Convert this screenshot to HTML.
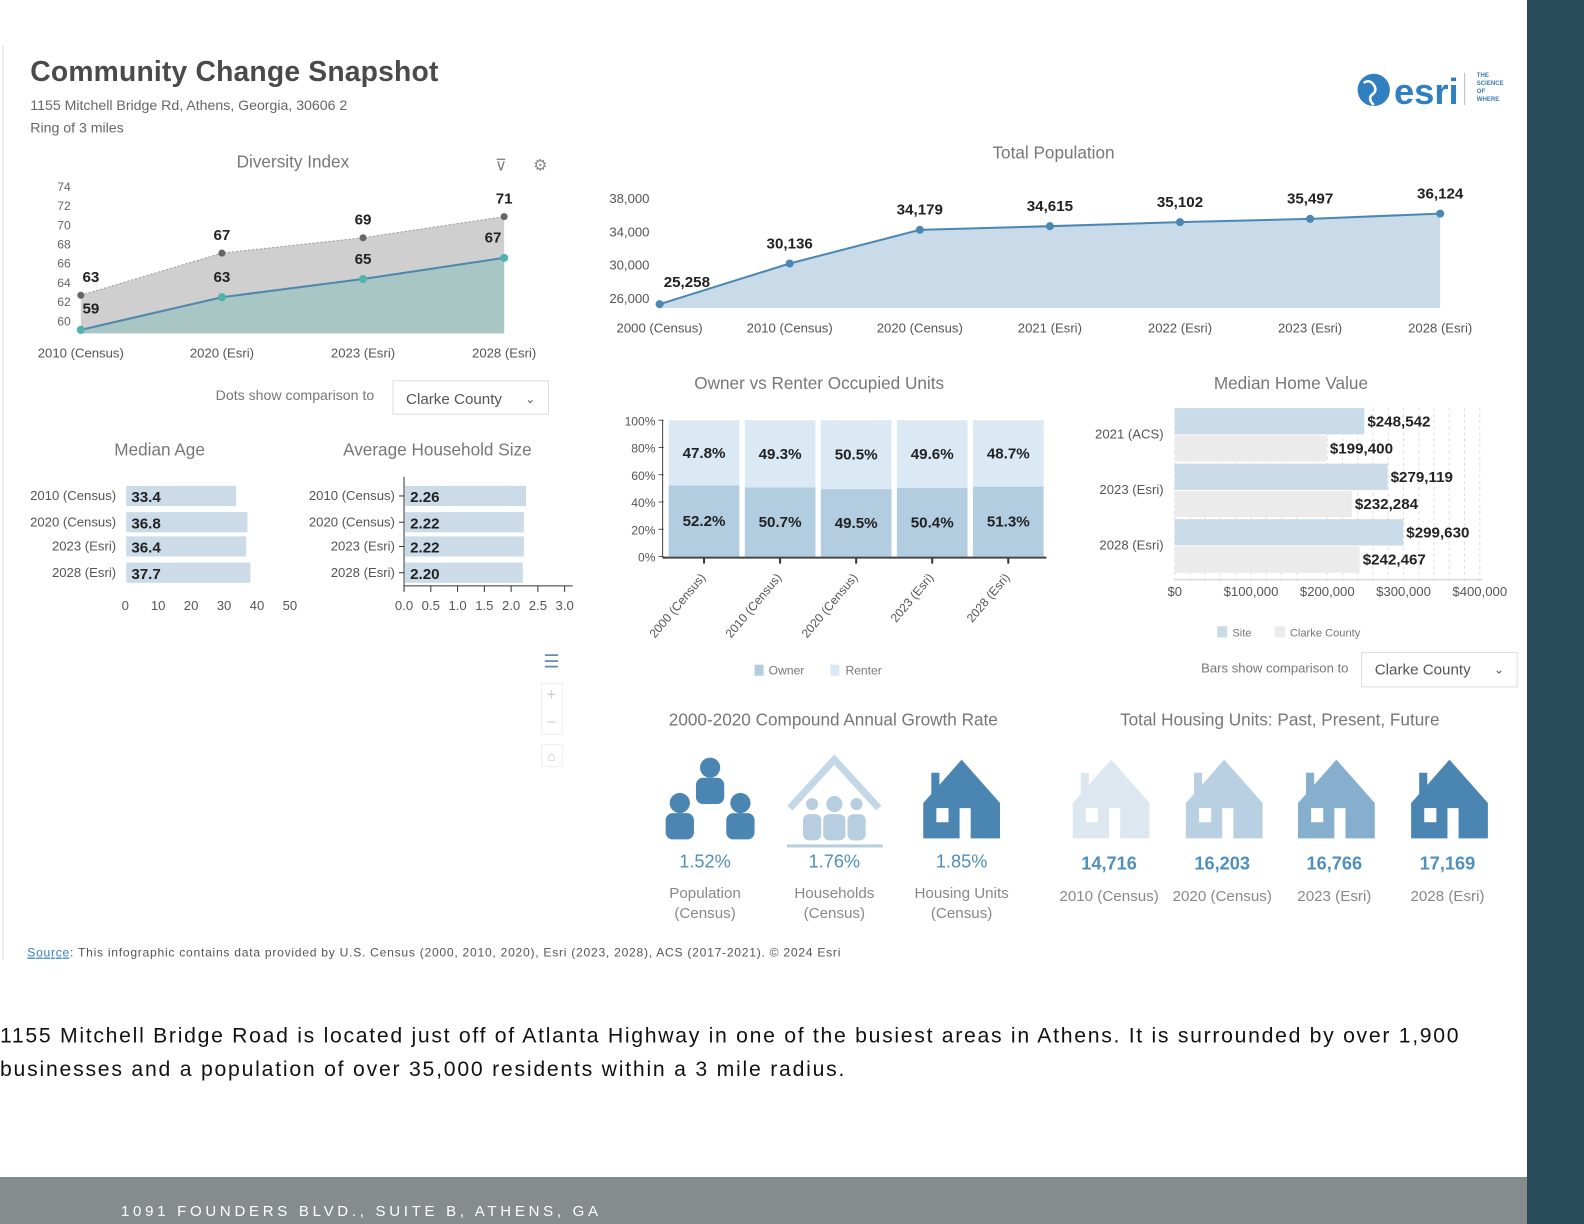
<!DOCTYPE html>
<html><head><meta charset="utf-8"><style>
html,body{margin:0;padding:0;width:1584px;height:1224px;overflow:hidden;background:#fff;font-family:"Liberation Sans",sans-serif}
svg{position:absolute;left:0;top:0}
text{font-family:"Liberation Sans",sans-serif}
</style></head><body>
<svg id="s" width="1584" height="1224" viewBox="0 0 1584 1224" xmlns="http://www.w3.org/2000/svg">
<rect x="1527" y="0" width="57" height="1224" fill="#284a5b"/>
<rect x="0" y="1177" width="1527" height="47" fill="#868b8d"/>
<text x="121" y="1216" fill="#fff" font-size="15" textLength="480" letter-spacing="3">1091 FOUNDERS BLVD., SUITE B, ATHENS, GA</text>
<g transform="scale(1.0101)">
<line x1="3" y1="45" x2="3" y2="950" stroke="#eee" stroke-width="2"/>
<text x="30" y="80" font-size="28" font-weight="bold" fill="#4a4a4a" textLength="404">Community Change Snapshot</text>
<text x="30" y="109" font-size="14" fill="#666">1155 Mitchell Bridge Rd, Athens, Georgia, 30606 2</text>
<text x="30" y="131" font-size="14" fill="#666">Ring of 3 miles</text>
<g>
<circle cx="1360" cy="89" r="16" fill="#2f7fc1"/>
<path d="M1350 82 q6 -4 10 2 q4 6 -2 10 q-4 4 2 10" stroke="#fff" stroke-width="2.5" fill="none"/>
<text x="1380" y="103" font-size="36" font-weight="bold" fill="#2f7fc1">esri</text>
<line x1="1450" y1="72" x2="1450" y2="104" stroke="#bbb"/>
<text x="1462" y="76" font-size="6" font-weight="bold" fill="#3a7ab0">THE</text>
<text x="1462" y="84" font-size="6" font-weight="bold" fill="#3a7ab0">SCIENCE</text>
<text x="1462" y="92" font-size="6" font-weight="bold" fill="#3a7ab0">OF</text>
<text x="1462" y="100" font-size="6" font-weight="bold" fill="#3a7ab0">WHERE</text>
</g>
<text x="290" y="166" text-anchor="middle" font-size="17" fill="#777">Diversity Index</text>
<text x="496" y="169" text-anchor="middle" font-size="16" fill="#888">⊽</text>
<text x="535" y="169" text-anchor="middle" font-size="16" fill="#888">⚙</text>
<g id="div"></g>
<text x="292" y="396" text-anchor="middle" font-size="14" fill="#777">Dots show comparison to</text>
<g><rect x="389" y="377" width="154" height="33" fill="#fff" stroke="#ddd"/><text x="402" y="400" font-size="15" fill="#555">Clarke County</text><text x="520" y="399" font-size="12" fill="#555">⌄</text></g>
<text x="158" y="451" text-anchor="middle" font-size="17" fill="#777">Median Age</text>
<text x="433" y="451" text-anchor="middle" font-size="17" fill="#777">Average Household Size</text>
<g id="age"></g><g id="hh"></g>
<g fill="none" stroke="#bbb">
<text x="546" y="661" text-anchor="middle" font-size="18" fill="#6b8aa6" stroke="none">☰</text>
<rect x="536" y="677" width="21" height="50" stroke="#eee"/>
<text x="546" y="693" text-anchor="middle" font-size="16" fill="#ccc" stroke="none">+</text>
<text x="546" y="720" text-anchor="middle" font-size="16" fill="#ccc" stroke="none">−</text>
<rect x="536" y="737" width="21" height="22" stroke="#eee"/>
<text x="546" y="753" text-anchor="middle" font-size="13" fill="#bbb" stroke="none">⌂</text>
</g>
<text x="1043" y="157" text-anchor="middle" font-size="17" fill="#777">Total Population</text>
<g id="pop"></g>
<text x="811" y="385" text-anchor="middle" font-size="17" fill="#777">Owner vs Renter Occupied Units</text>
<g id="ten"></g>
<text x="1278" y="385" text-anchor="middle" font-size="17" fill="#777">Median Home Value</text>
<g id="hv"></g>
<text x="1335" y="666" text-anchor="end" font-size="13" fill="#777">Bars show comparison to</text>
<g><rect x="1348" y="646" width="154" height="34" fill="#fff" stroke="#ddd"/><text x="1361" y="668" font-size="15" fill="#555">Clarke County</text><text x="1479" y="667" font-size="12" fill="#555">⌄</text></g>
<text x="825" y="718" text-anchor="middle" font-size="17" fill="#777">2000-2020 Compound Annual Growth Rate</text>
<text x="1267" y="718" text-anchor="middle" font-size="17" fill="#777">Total Housing Units: Past, Present, Future</text>
<g id="icons"></g>
<text x="27" y="947" font-size="12" fill="#555" textLength="805"><tspan fill="#2f7fc1" text-decoration="underline">Source</tspan>: This infographic contains data provided by U.S. Census (2000, 2010, 2020), Esri (2023, 2028), ACS (2017-2021). © 2024 Esri</text>
<text x="0" y="1032" font-size="21" fill="#111" textLength="1444">1155 Mitchell Bridge Road is located just off of Atlanta Highway in one of the busiest areas in Athens.  It is surrounded by over 1,900</text>
<text x="0" y="1065" font-size="21" fill="#111" textLength="836">businesses and a population of over 35,000 residents within a 3 mile radius.</text>
</g>
</svg>
<script>
const NS="http://www.w3.org/2000/svg";
function mk(p,t,a,txt){const e=document.createElementNS(NS,t);for(const k in a)e.setAttribute(k,a[k]);if(txt!==undefined)e.textContent=txt;p.appendChild(e);return e;}
// Diversity
const divCats=["2010 (Census)","2020 (Esri)","2023 (Esri)","2028 (Esri)"];
const divSite=[59.1,62.5,64.4,66.6];
const divCounty=[62.7,67.1,68.7,70.9];
const divSiteLbl=["59","63","65","67"];
const divCountyLbl=["63","67","69","71"];
const divTicks=[60,62,64,66,68,70,72,74];
// Population
const popCats=["2000 (Census)","2010 (Census)","2020 (Census)","2021 (Esri)","2022 (Esri)","2023 (Esri)","2028 (Esri)"];
const popVals=[25258,30136,34179,34615,35102,35497,36124];
const popTicks=[26000,30000,34000,38000];
// Tenure
const tenCats=["2000 (Census)","2010 (Census)","2020 (Census)","2023 (Esri)","2028 (Esri)"];
const tenOwner=[52.2,50.7,49.5,50.4,51.3];
const tenRenter=[47.8,49.3,50.5,49.6,48.7];
// Home value
const hvCats=["2021 (ACS)","2023 (Esri)","2028 (Esri)"];
const hvSite=[248542,279119,299630];
const hvCounty=[199400,232284,242467];
const hvTicks=[0,100000,200000,300000,400000];
// Age / household
const rowCats=["2010 (Census)","2020 (Census)","2023 (Esri)","2028 (Esri)"];
const ageVals=[33.4,36.8,36.4,37.7];
const ageTicks=[0,10,20,30,40,50];
const hhVals=[2.26,2.22,2.22,2.20];
const hhTicks=[0,0.5,1.0,1.5,2.0,2.5,3.0];
// icons
const growthVals=["1.52%","1.76%","1.85%"];
const growthLbls=[["Population","(Census)"],["Households","(Census)"],["Housing Units","(Census)"]];
const housingVals=[14716,16203,16766,17169];
const housingCats=["2010 (Census)","2020 (Census)","2023 (Esri)","2028 (Esri)"];

(function(){const g=document.getElementById('div');
const x=i=>80+i*139.7, y=v=>318-(v-60)*9.5, base=330;
divTicks.forEach(t=>{const e=mk(g,'text',{x:70,y:y(t)+4,'text-anchor':'end','font-size':12,fill:'#666'},t);

});
let pc='M'+x(0)+' '+base+divCounty.map((v,i)=>' L'+x(i)+' '+y(v)).join('')+' L'+x(3)+' '+base+'Z';
const a1=mk(g,'path',{d:pc,fill:'#cfcfcf'});


let ps='M'+x(0)+' '+base+divSite.map((v,i)=>' L'+x(i)+' '+y(v)).join('')+' L'+x(3)+' '+base+'Z';
const a2=mk(g,'path',{d:ps,fill:'#a8c7c4'});


mk(g,'polyline',{points:divCounty.map((v,i)=>x(i)+','+y(v)).join(' '),fill:'none',stroke:'#999','stroke-dasharray':'2 2'});
const l=mk(g,'polyline',{points:divSite.map((v,i)=>x(i)+','+y(v)).join(' '),fill:'none',stroke:'#4f87ad','stroke-width':2});


divCats.forEach((c,i)=>{
const d1=mk(g,'circle',{cx:x(i),cy:y(divCounty[i]),r:3.5,fill:'#666'});


const d2=mk(g,'circle',{cx:x(i),cy:y(divSite[i]),r:4,fill:'#4fb3a9'});


mk(g,'text',{x:i==0?x(i)+10:x(i),y:y(divCounty[i])-13,'text-anchor':'middle','font-size':15,'font-weight':'bold',fill:'#222'},divCountyLbl[i]);
mk(g,'text',{x:i==0?x(i)+10:x(i)-11*(i==3),y:i==0?y(divSite[i])-16:y(divSite[i])-15,'text-anchor':'middle','font-size':15,'font-weight':'bold',fill:'#222'},divSiteLbl[i]);
const t=mk(g,'text',{x:x(i),y:354,'text-anchor':'middle','font-size':13,fill:'#555'},c);

});
})();
(function(){const g=document.getElementById('pop');
const x=i=>653+i*128.8, y=v=>295-(v-26000)*0.00825, base=305;
popTicks.forEach(t=>mk(g,'text',{x:643,y:y(t)+5,'text-anchor':'end','font-size':13,fill:'#555'},t.toLocaleString('en-US')));
const a=mk(g,'path',{d:'M'+x(0)+' '+base+popVals.map((v,i)=>' L'+x(i)+' '+y(v)).join('')+' L'+x(6)+' '+base+'Z',fill:'#c9dbe8'});


mk(g,'polyline',{points:popVals.map((v,i)=>x(i)+','+y(v)).join(' '),fill:'none',stroke:'#4a88b3','stroke-width':2});
popVals.forEach((v,i)=>{
const c=mk(g,'circle',{cx:x(i),cy:y(v),r:4,fill:'#4a88b3'});


mk(g,'text',{x:i==0?x(i)+27:x(i),y:y(v)-15+(i==0?-2:0),'text-anchor':'middle','font-size':15,'font-weight':'bold',fill:'#222'},v.toLocaleString('en-US'));
mk(g,'text',{x:x(i),y:329,'text-anchor':'middle','font-size':13,fill:'#555'},popCats[i]);});
})();
(function(){const g=document.getElementById('ten');
const y=v=>551-v*1.35, x=i=>697+i*75.3, w=70;
[0,20,40,60,80,100].forEach(t=>{mk(g,'text',{x:649,y:y(t)+5,'text-anchor':'end','font-size':12,fill:'#555'},t+'%');mk(g,'line',{x1:652,x2:657,y1:y(t),y2:y(t),stroke:'#555'});});
tenCats.forEach((c,i)=>{
const b1=mk(g,'rect',{x:x(i)-w/2,y:y(tenOwner[i]),width:w,height:tenOwner[i]*1.35,fill:'#b3cde0'});


const b2=mk(g,'rect',{x:x(i)-w/2,y:y(100),width:w,height:tenRenter[i]*1.35,fill:'#dbe9f4'});


mk(g,'text',{x:x(i),y:y(tenOwner[i]/2)+5,'text-anchor':'middle','font-size':15,'font-weight':'bold',fill:'#222'},tenOwner[i].toFixed(1)+'%');
mk(g,'text',{x:x(i),y:y(tenOwner[i]+tenRenter[i]/2)+5,'text-anchor':'middle','font-size':15,'font-weight':'bold',fill:'#222'},tenRenter[i].toFixed(1)+'%');
mk(g,'line',{x1:x(i),x2:x(i),y1:552,y2:558,stroke:'#333','stroke-width':2});
mk(g,'text',{x:x(i)+2,y:572,'text-anchor':'end','font-size':12,fill:'#555',transform:'rotate(-50 '+(x(i)+2)+' 572)'},c);});
mk(g,'line',{x1:656,x2:656,y1:416,y2:552,stroke:'#444'});
mk(g,'line',{x1:656,x2:1036,y1:552,y2:552,stroke:'#444','stroke-width':2});
mk(g,'rect',{x:747,y:658,width:9,height:11,fill:'#b3cde0'});mk(g,'text',{x:761,y:668,'font-size':12,fill:'#777'},'Owner');
mk(g,'rect',{x:822,y:658,width:9,height:11,fill:'#dbe9f4'});mk(g,'text',{x:837,y:668,'font-size':12,fill:'#777'},'Renter');
})();
(function(){const g=document.getElementById('hv');
const x=v=>1163+v*0.000755;
for(let v=0;v<=400000;v+=20000)mk(g,'line',{x1:x(v),x2:x(v),y1:404,y2:575,stroke:'#ddd','stroke-dasharray':'3 3'});
hvTicks.forEach(t=>mk(g,'text',{x:x(t),y:590,'text-anchor':'middle','font-size':13,fill:'#555'},'$'+t.toLocaleString('en-US')));
hvCats.forEach((c,i)=>{const y0=404+i*55;
const b1=mk(g,'rect',{x:1163,y:y0,width:x(hvSite[i])-1163,height:26,fill:'#c9dbe8'});


const b2=mk(g,'rect',{x:1163,y:y0+27,width:x(hvCounty[i])-1163,height:26,fill:'#ebebeb'});


mk(g,'text',{x:x(hvSite[i])+3,y:y0+18,'font-size':15,'font-weight':'bold',fill:'#222'},'$'+hvSite[i].toLocaleString('en-US'));
mk(g,'text',{x:x(hvCounty[i])+3,y:y0+45,'font-size':15,'font-weight':'bold',fill:'#222'},'$'+hvCounty[i].toLocaleString('en-US'));
mk(g,'text',{x:1152,y:y0+30,'text-anchor':'end','font-size':13,fill:'#555'},c);});
mk(g,'line',{x1:1163,x2:1468,y1:574,y2:574,stroke:'#ccc'});
mk(g,'rect',{x:1205,y:620,width:10,height:11,fill:'#c9dbe8'});mk(g,'text',{x:1220,y:630,'font-size':11,fill:'#777'},'Site');
mk(g,'rect',{x:1262,y:620,width:10,height:11,fill:'#ebebeb'});mk(g,'text',{x:1277,y:630,'font-size':11,fill:'#777'},'Clarke County');
})();
function hbar(id,vals,ticks,x0,scale,lx,dec,name){const g=document.getElementById(id);
const ys=[481,507,531,557];
vals.forEach((v,i)=>{const r=mk(g,'rect',{x:x0+1,y:ys[i],width:v*scale,height:20,fill:'#cbdce8'});


mk(g,'text',{x:x0+6,y:ys[i]+16,'font-size':15,'font-weight':'bold',fill:'#222'},v.toFixed(dec));
mk(g,'text',{x:lx,y:ys[i]+14,'text-anchor':'end','font-size':13,fill:'#555'},rowCats[i]);});
ticks.forEach(t=>mk(g,'text',{x:x0+t*scale,y:604,'text-anchor':'middle','font-size':13,fill:'#555'},dec==2?t.toFixed(1):t));
return g;}
hbar('age',ageVals,ageTicks,124,3.26,115,1,'median-age-bar');
(function(){const g=hbar('hh',hhVals,hhTicks,400,53,391,2,'household-size-bar');
mk(g,'line',{x1:400,x2:400,y1:472,y2:585,stroke:'#333'});
mk(g,'line',{x1:400,x2:567,y1:580,y2:580,stroke:'#333'});
hhTicks.forEach(t=>mk(g,'line',{x1:400+t*53,x2:400+t*53,y1:580,y2:586,stroke:'#333'}));
[481,507,531,557].forEach(y=>mk(g,'line',{x1:395,x2:400,y1:y+10,y2:y+10,stroke:'#333'}));})();
(function(){const g=document.getElementById('icons');
function house(cx,col){const p=mk(g,'path',{d:`M${cx} 752 L${cx+38} 795 L${cx+38} 830 L${cx+9} 830 L${cx+9} 800 L${cx-2} 800 L${cx-2} 830 L${cx-38} 830 L${cx-38} 795 L${cx-30} 786 L${cx-30} 765 L${cx-22} 765 L${cx-22} 777 Z`,fill:col});


mk(g,'rect',{x:cx-25,y:800,width:12,height:14,fill:'#fff'});}
const pc='#4a86b1';
[[703,760],[673,795],[733,795]].forEach(([cx,cy])=>{mk(g,'circle',{cx:cx,cy:cy,r:10,fill:pc});mk(g,'rect',{x:cx-14,y:cy+10,width:28,height:26,rx:7,fill:pc});});
mk(g,'path',{d:'M782 800 L826 752 L870 800',fill:'none',stroke:'#c3d7e6','stroke-width':7});
mk(g,'rect',{x:779,y:836,width:95,height:3,fill:'#b7cee0'});
[[804,8],[826,10],[848,8]].forEach(([cx,r])=>{mk(g,'circle',{cx:cx,cy:796,r:r-2,fill:'#b7cee0'});mk(g,'rect',{x:cx-r-1,y:806,width:2*r+2,height:26,rx:6,fill:'#b7cee0'});});
house(952,'#4a86b1');
const hc=['#dce7f0','#b8d0e2','#86aecd','#4a86b1'],hx=[1100,1212,1323,1435];
growthVals.forEach((v,i)=>{const cx=[698,826,952][i];
mk(g,'text',{x:cx,y:859,'text-anchor':'middle','font-size':18,fill:'#4f8fbf'},v);
mk(g,'text',{x:cx,y:889,'text-anchor':'middle','font-size':15,fill:'#888'},growthLbls[i][0]);
mk(g,'text',{x:cx,y:909,'text-anchor':'middle','font-size':15,fill:'#888'},growthLbls[i][1]);});
housingVals.forEach((v,i)=>{house(hx[i],hc[i]);
const t=mk(g,'text',{x:hx[i]-2,y:861,'text-anchor':'middle','font-size':18,'font-weight':'bold',fill:'#4f8fbf'},v.toLocaleString('en-US'));


mk(g,'text',{x:hx[i]-2,y:892,'text-anchor':'middle','font-size':15,fill:'#888'},housingCats[i]);});
})();
</script>
</body></html>
